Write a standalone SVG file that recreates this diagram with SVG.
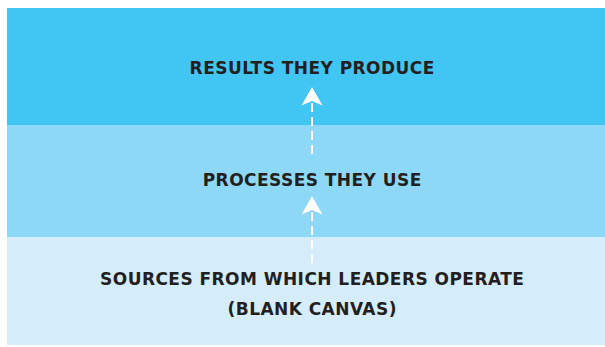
<svg xmlns="http://www.w3.org/2000/svg" width="605" height="347" viewBox="0 0 605 347">
<style>
.lbl{font-family:"DejaVu Sans","Open Sans",sans-serif;font-weight:bold;font-size:17px;fill:#231F20;text-anchor:middle;letter-spacing:0.45px}
.dash{stroke:#FFFFFF;stroke-width:2;stroke-dasharray:9 5;fill:none}
.head{fill:#FFFFFF}
</style>
<rect width="605" height="347" fill="#FFFFFF"/>
<g id="results">
<rect x="7" y="8" width="610" height="117" fill="#41C6F4"/>
<text class="lbl" x="312.2" y="73.5">RESULTS THEY PRODUCE</text>
</g>
<g id="processes">
<rect x="7" y="125" width="610" height="112" fill="#8DD8F7"/>
<text class="lbl" x="312.2" y="185.5">PROCESSES THEY USE</text>
</g>
<g id="sources">
<rect x="7" y="237" width="610" height="108" fill="#D5ECFA"/>
<text class="lbl" x="312.2" y="284.5">SOURCES FROM WHICH LEADERS OPERATE</text>
<text class="lbl" x="312.2" y="314.5">(BLANK CANVAS)</text>
</g>
<g id="connectors">
<line class="dash" x1="312" y1="103" x2="312" y2="154"/>
<path class="head" d="M312 87 L322.5 105.5 L312 101 L301.5 105.5 Z"/>
<line class="dash" x1="312" y1="212" x2="312" y2="263"/>
<path class="head" d="M312 196 L322.5 214.5 L312 210 L301.5 214.5 Z"/>
</g>
</svg>
